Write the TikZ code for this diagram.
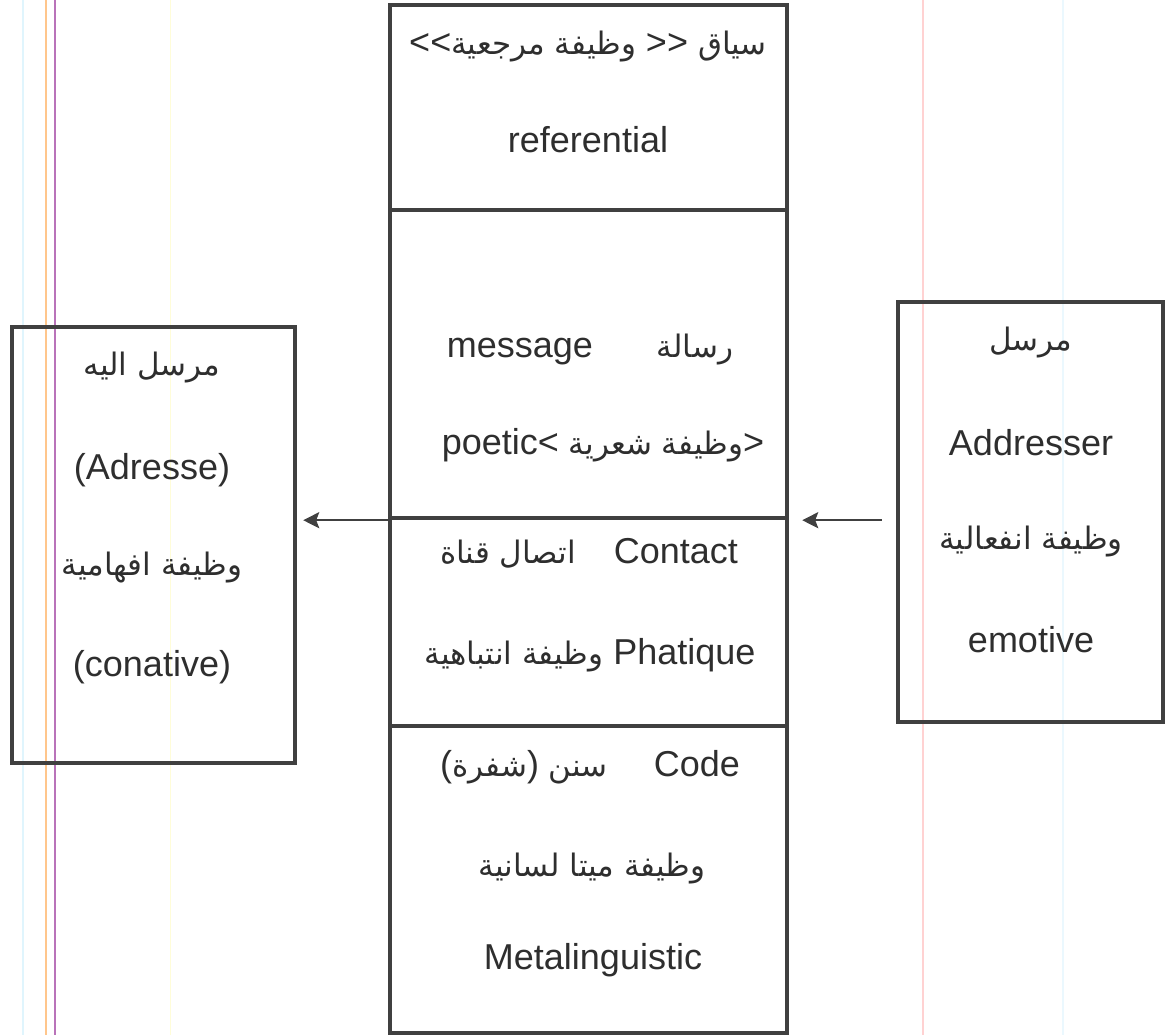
\documentclass[tikz,border=0pt]{standalone}
\usepackage{fontspec}
\setmainfont{Liberation Sans}
\newfontfamily\arabicfont[Script=Arabic, Scale=0.86]{DejaVu Sans}
\TeXXeTstate=1
\usetikzlibrary{arrows.meta}
\newcommand{\artxt}[1]{{\arabicfont\beginR #1\endR}}

\begin{document}
\begin{tikzpicture}[x=0.5pt, y=-0.5pt,
  box/.style={draw=black!75, line width=2.2pt, inner sep=0pt},
  lbl/.style={text=black!82, font=\fontsize{18}{22}\selectfont, inner sep=0pt},
  conn/.style={draw=black!75, line width=1.2pt, -{Stealth[length=8pt, width=8pt, inset=1.5pt]}}]
\useasboundingbox (0, 0) rectangle (1165, 1035);
%\draw[very thin, color=gray] (0, 0) grid[step=100] (1165, 1035);
%----------------------------------------
\draw[color=cyan!12, line width=0.6pt] (23, 0)--(23, 1035);
\draw[color=orange!45, line width=0.7pt] (46, 0)--(46, 1035);
\draw[color=violet!55, line width=0.7pt] (55, 0)--(55, 1035);
\draw[color=yellow!15, line width=0.5pt] (170, 0)--(170, 1035);
\draw[color=pink!70, line width=0.6pt] (923, 0)--(923, 1035);
\draw[color=cyan!8, line width=0.6pt] (1063, 0)--(1063, 1035);
%----------------------------------------
\node[box, minimum width=198.5pt, minimum height=102.5pt] (context) at (588.5, 107.5) {};
\node[box, minimum width=198.5pt, minimum height=154pt] (message) at (588.5, 364) {};
\node[box, minimum width=198.5pt, minimum height=104pt] (contact) at (588.5, 622) {};
\node[box, minimum width=198.5pt, minimum height=153.5pt] (code) at (588.5, 879.5) {};
\node[box, minimum width=141.5pt, minimum height=218pt] (addressee) at (153.5, 545) {};
\node[box, minimum width=132.5pt, minimum height=210pt] (addresser) at (1030.5, 512) {};
%----------------------------------------
\node[lbl] (ctx1) at (588, 47) {<{}<\artxt{وظيفة مرجعية} >{}> \artxt{سياق}};
\node[lbl] (ctx2) at (588, 140) {referential};
\node[lbl] (msg1) at (590, 350) {message\hspace{32pt}\artxt{رسالة}};
\node[lbl] (msg2) at (603, 445) {poetic< \artxt{وظيفة شعرية}>};
\node[lbl] (con1) at (589, 553) {\artxt{اتصال قناة}\hspace{19pt}Contact};
\node[lbl] (con2) at (590, 655) {\artxt{وظيفة انتباهية} Phatique};
\node[lbl] (cod1) at (590, 767) {(\artxt{شفرة})\ \artxt{سنن}\hspace{23pt}Code};
\node[lbl] (cod2) at (592, 868) {\artxt{وظيفة ميتا لسانية}};
\node[lbl] (cod3) at (593, 960) {Metalinguistic};
%----------------------------------------
\node[lbl] (ade1) at (152, 368) {\artxt{مرسل اليه}};
\node[lbl] (ade2) at (152, 470) {(Adresse)};
\node[lbl] (ade3) at (152, 568) {\artxt{وظيفة افهامية}};
\node[lbl] (ade4) at (152, 667) {(conative)};
\node[lbl] (adr1) at (1031, 343) {\artxt{مرسل}};
\node[lbl] (adr2) at (1031, 443) {Addresser};
\node[lbl] (adr3) at (1031, 542) {\artxt{وظيفة انفعالية}};
\node[lbl] (adr4) at (1031, 640) {emotive};
%----------------------------------------
\draw[conn, shorten >=3pt] (message.south west) -- (message.south west -| addressee.east);
\draw[conn, shorten <=7pt, shorten >=6.5pt] (addresser.west |- message.south east) -- (message.south east);
\end{tikzpicture}
\end{document}
